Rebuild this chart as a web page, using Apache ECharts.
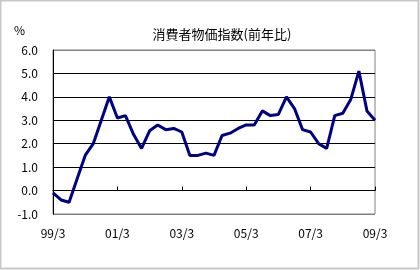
<!DOCTYPE html>
<html>
<head>
<meta charset="utf-8">
<script src="https://cdn.jsdelivr.net/npm/echarts@6/dist/echarts.min.js"></script>
<style>
html,body{margin:0;padding:0;background:#fff;}
#chart{width:420px;height:270px;}
</style>
</head>
<body>
<div id="chart"></div>
<script>
const titleText = '消費者物価指数(前年比)';
const unitText = '%';
const categories = [
  '99/3','99/6','99/9','99/12',
  '00/3','00/6','00/9','00/12',
  '01/3','01/6','01/9','01/12',
  '02/3','02/6','02/9','02/12',
  '03/3','03/6','03/9','03/12',
  '04/3','04/6','04/9','04/12',
  '05/3','05/6','05/9','05/12',
  '06/3','06/6','06/9','06/12',
  '07/3','07/6','07/9','07/12',
  '08/3','08/6','08/9','08/12',
  '09/3'
];
const cpi = [
  -0.1, -0.4, -0.5, 0.5,
  1.5, 2.0, 3.0, 4.0,
  3.1, 3.2, 2.4, 1.8,
  2.55, 2.8, 2.6, 2.65,
  2.5, 1.5, 1.5, 1.6,
  1.5, 2.35, 2.45, 2.65,
  2.8, 2.8, 3.4, 3.2,
  3.25, 4.0, 3.5, 2.6,
  2.5, 2.0, 1.8, 3.2,
  3.3, 3.9, 5.1, 3.4,
  3.0
];
const yMin = -1, yMax = 6, yStep = 1;

const font = '"Noto Sans CJK JP", "Noto Sans", sans-serif';
const chart = echarts.init(document.getElementById('chart'), null, {renderer: 'canvas'});
chart.setOption({
  animation: false,
  backgroundColor: '#fff',
  grid: {left: 53, right: 45, top: 50, bottom: 56, show: true, borderColor: '#808080', borderWidth: 1, backgroundColor: 'transparent'},
  graphic: [
    {type: 'rect', shape: {x: 0.5, y: 0.5, width: 418, height: 268}, style: {fill: 'none', stroke: '#c8c8c8', lineWidth: 2}, z: 100},
    {type: 'text', left: 14, top: 24, style: {text: unitText, font: '12px ' + font, fill: '#000'}},
    {type: 'text', x: 222, y: 34, style: {text: titleText, font: '13px ' + font, fill: '#000', textAlign: 'center', textVerticalAlign: 'middle'}}
  ],
  xAxis: [
    {
      type: 'category', data: categories, boundaryGap: false, position: 'bottom',
      axisLine: {show: false, onZero: false},
      axisTick: {show: false},
      axisLabel: {interval: 7, color: '#000', fontSize: 12, fontFamily: font, margin: 13},
      splitLine: {show: false}
    },
    {
      type: 'category', data: categories, boundaryGap: false, position: 'top',
      axisLine: {show: true, onZero: true, lineStyle: {color: '#000', width: 1}},
      axisTick: {show: true, interval: 7, length: 4, lineStyle: {color: '#000'}},
      axisLabel: {show: false},
      splitLine: {show: false}
    }
  ],
  yAxis: {
    type: 'value', min: yMin, max: yMax, interval: yStep,
    axisLine: {show: true, lineStyle: {color: '#000', width: 1}},
    axisTick: {show: false},
    axisLabel: {color: '#000', fontSize: 12, fontFamily: font, margin: 15, formatter: v => v.toFixed(1)},
    splitLine: {show: true, lineStyle: {color: ['#808080','#000','#000','#000','#000','#000','#000','#808080'], width: 1}}
  },
  series: [{
    type: 'line', data: cpi, xAxisIndex: 0, showSymbol: false, symbol: 'none',
    lineStyle: {color: '#000080', width: 3}, z: 5
  }]
});
</script>
</body>
</html>
